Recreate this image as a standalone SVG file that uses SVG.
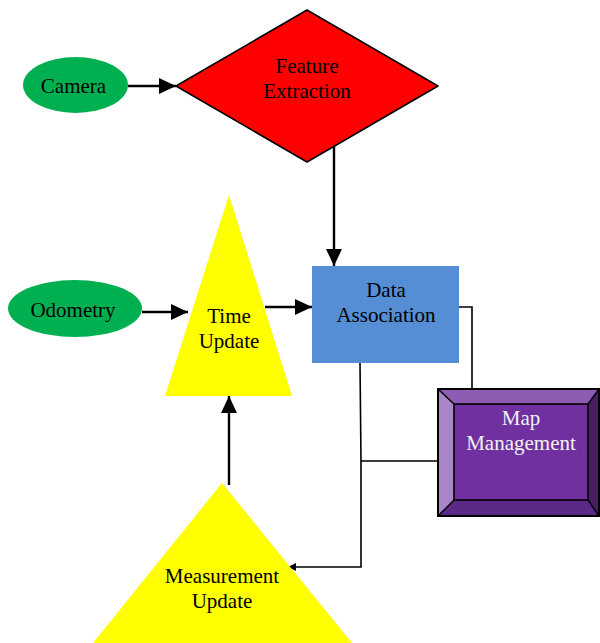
<svg xmlns="http://www.w3.org/2000/svg" width="600" height="643" viewBox="0 0 600 643">
  <style>
    text { font-family: "Liberation Serif", "Times New Roman", serif; font-size: 21px; fill: #000; text-anchor: middle; }
    .light { fill: #f2f2f2; }
    .arrow { fill: none; stroke: #000; stroke-width: 2.4; marker-end: url(#head); }
    .link { fill: none; stroke: #000; stroke-width: 1.6; }
    .edge { stroke: #000; stroke-width: 1.6; stroke-linejoin: round; }
  </style>
  <defs>
    <marker id="head" markerUnits="userSpaceOnUse" markerWidth="17" markerHeight="16" viewBox="0 0 17 16" refX="17" refY="8" orient="auto">
      <path d="M0,0 L17,8 L0,16 Z" fill="#000"/>
    </marker>
    <marker id="headSmall" markerUnits="userSpaceOnUse" markerWidth="8" markerHeight="8" viewBox="0 0 8 8" refX="8" refY="4" orient="auto">
      <path d="M0,0 L8,4 L0,8 Z" fill="#000"/>
    </marker>
  </defs>

  <!-- connectors, drawn beneath the shapes -->
  <g id="connectors">
    <path class="arrow" d="M128,86 L176,86"/>
    <path class="arrow" d="M334,146 L334,266"/>
    <path class="arrow" d="M142,312 L188,312"/>
    <path class="arrow" d="M265,307 L312,307"/>
    <path class="arrow" d="M229,485 L229,396"/>
    <path class="link" d="M459,307 L472,307 L472,389"/>
    <path class="link" d="M360,363 L361,461 L438,461"/>
    <path class="link" d="M361,461 L361,567 L288,567" marker-end="url(#headSmall)"/>
  </g>

  <g id="camera">
    <ellipse cx="75.5" cy="85" rx="52.5" ry="28" fill="#00B050"/>
    <text x="73.5" y="92.5">Camera</text>
  </g>

  <g id="feature-extraction">
    <polygon class="edge" points="307,10 438,86 307,162 176,86" fill="#FF0000"/>
    <text x="307" y="73">Feature</text>
    <text x="307" y="98">Extraction</text>
  </g>

  <g id="odometry">
    <ellipse cx="75" cy="308.5" rx="67" ry="28.5" fill="#00B050"/>
    <text x="73" y="317">Odometry</text>
  </g>

  <g id="time-update">
    <polygon points="229,195 292,396 165,396" fill="#FFFF00"/>
    <text x="229" y="323">Time</text>
    <text x="229" y="348">Update</text>
  </g>

  <g id="data-association">
    <rect x="312" y="266" width="147" height="97" fill="#558ED5"/>
    <text x="386" y="297">Data</text>
    <text x="386" y="322">Association</text>
  </g>

  <g id="map-management">
    <!-- bevelled frame: four faces around the raised inner panel -->
    <polygon points="438,389 599,389 588,404 454,404" fill="#8E5CB3"/>
    <polygon points="438,389 454,404 454,500 438,516" fill="#A886C7"/>
    <polygon points="438,516 454,500 588,500 599,516" fill="#5B2A86"/>
    <polygon points="599,389 599,516 588,500 588,404" fill="#45205F"/>
    <rect x="454" y="404" width="134" height="96" fill="#7030A0" stroke="#000" stroke-width="1.6"/>
    <path d="M438,389 L454,404 M599,389 L588,404 M438,516 L454,500 M599,516 L588,500" stroke="#000" stroke-width="1.4"/>
    <rect x="438" y="389" width="161" height="127" fill="none" stroke="#000" stroke-width="2"/>
    <text class="light" x="521" y="425">Map</text>
    <text class="light" x="521" y="450">Management</text>
  </g>

  <g id="measurement-update">
    <polygon points="222,483 352,643 93,643" fill="#FFFF00"/>
    <text x="222" y="583">Measurement</text>
    <text x="222" y="608">Update</text>
  </g>
</svg>
